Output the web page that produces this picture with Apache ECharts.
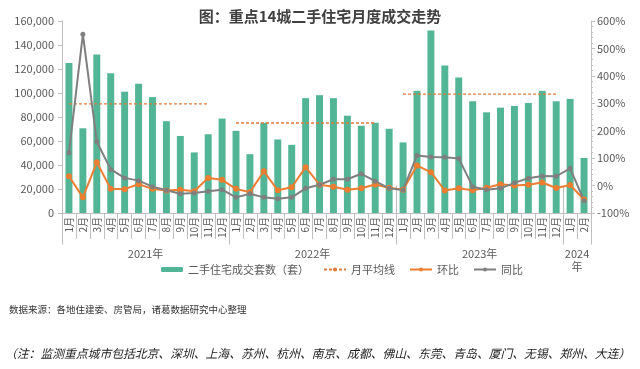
<!DOCTYPE html>
<html><head><meta charset="utf-8">
<script src="https://cdn.jsdelivr.net/npm/echarts@6/dist/echarts.min.js"></script>
<style>html,body{margin:0;padding:0;background:#fff}#c{width:640px;height:369px}</style>
</head><body><div id="c"></div>
<script>
// ---- data ----
const months = ['1月','2月','3月','4月','5月','6月','7月','8月','9月','10月','11月','12月',
  '1月','2月','3月','4月','5月','6月','7月','8月','9月','10月','11月','12月',
  '1月','2月','3月','4月','5月','6月','7月','8月','9月','10月','11月','12月',
  '1月','2月'];
const yearLabels = ['2021年','2022年','2023年','2024\n年'];
const yearMonthCounts = [12, 12, 12, 2];
const volumes = [125000,70600,132100,116400,101100,107800,96600,76500,64200,50500,65600,78700,
  68500,49000,75200,61300,56800,95700,98200,95700,81100,72700,75200,70200,
  58800,101800,152000,123000,112900,93100,83900,87800,89200,91700,101800,93100,
  95100,45900];
const mom = [34,-43,85,-12,-13,5,-12,-18,-15,-21,28,21,
  -12,-24,52,-17,-6,67,3,-4,-15,-10,4,-8,
  -15,73,49,-18,-10,-17,-8,5,0,3,11,-9,
  2,-51];
const yoy = [120,552,160,59,28,18,-4,-17,-30,-27,-21,-15,
  -43,-30,-43,-48,-43,-10,3,23,23,43,16,-10,
  -16,110,104,103,99,-4,-15,-10,10,27,35,34,
  63,-55];
const avgValues = [91000, 75000, 99000];
const avgMonthsShown = [11, 11, 12];
const leftTicks = {min: 0, max: 160000, interval: 20000};
const rightTicks = {min: -100, max: 600, interval: 100};

// ---- build helpers ----
const avgLine = [];
yearMonthCounts.forEach((n, yi) => {
  for (let m = 0; m < n; m++) {
    avgLine.push(yi < avgValues.length && m < avgMonthsShown[yi] ? avgValues[yi] : null);
  }
});
const yearBounds = [0];
yearMonthCounts.forEach(n => yearBounds.push(yearBounds[yearBounds.length - 1] + n));
const yearCenters = {};
yearMonthCounts.forEach((n, i) => { yearCenters[yearBounds[i] + n / 2] = yearLabels[i]; });

const FONT = '"Noto Sans CJK SC", "Noto Sans", sans-serif';
const txt = '#595959';
const axisCol = '#bfbfbf';

const chart = echarts.init(document.getElementById('c'), null, {renderer: 'canvas'});
chart.setOption({
  animation: false,
  textStyle: {fontFamily: FONT},
  title: [
    {text: '图：重点14城二手住宅月度成交走势', left: 'center', top: 4,
     textStyle: {fontSize: 15, fontWeight: 'bold', color: '#404040', fontFamily: FONT}},
    {text: '数据来源：各地住建委、房管局，诸葛数据研究中心整理', left: 4, top: 300,
     textStyle: {fontSize: 9.5, fontWeight: 'normal', color: '#333', fontFamily: FONT}},
    {text: '（注：监测重点城市包括北京、深圳、上海、苏州、杭州、南京、成都、佛山、东莞、青岛、厦门、无锡、郑州、大连）',
     left: 0, top: 343,
     textStyle: {fontSize: 11.8, fontWeight: 'normal', fontStyle: 'italic', color: '#222', fontFamily: FONT}}
  ],
  grid: {left: 62, right: 49, top: 21, bottom: 156, containLabel: false},
  legend: {
    left: 156, top: 259, itemWidth: 22, itemHeight: 5, itemGap: 14,
    textStyle: {fontSize: 11, color: txt, fontFamily: FONT},
    data: ['二手住宅成交套数（套）', '月平均线', '环比', '同比']
  },
  xAxis: [
    {type: 'category', data: months, boundaryGap: true,
     axisLine: {show: true, lineStyle: {color: axisCol}},
     axisTick: {show: true, interval: 0, length: 26, lineStyle: {color: axisCol}},
     axisLabel: {interval: 0, rotate: 90, margin: 4, fontSize: 10, color: txt, fontFamily: FONT}},
    {type: 'value', min: 0, max: yearBounds[yearBounds.length - 1], position: 'bottom',
     axisLine: {show: false}, splitLine: {show: false},
     axisTick: {show: true, customValues: yearBounds, length: 59, lineStyle: {color: axisCol}},
     axisLabel: {show: true, customValues: Object.keys(yearCenters).map(Number), margin: 34,
       fontSize: 11, color: txt, lineHeight: 13, fontFamily: FONT,
       formatter: v => yearCenters[v] || ''}}
  ],
  yAxis: [
    {type: 'value', min: leftTicks.min, max: leftTicks.max, interval: leftTicks.interval,
     splitLine: {show: false},
     axisLine: {show: true, lineStyle: {color: axisCol}},
     axisTick: {show: true, length: 4, lineStyle: {color: axisCol}},
     axisLabel: {fontSize: 11, color: txt, margin: 8, fontFamily: FONT}},
    {type: 'value', min: rightTicks.min, max: rightTicks.max, interval: rightTicks.interval,
     position: 'right', splitLine: {show: false},
     axisLine: {show: true, lineStyle: {color: axisCol}},
     axisTick: {show: true, length: 4, lineStyle: {color: axisCol}},
     minorTick: {show: true, splitNumber: 5, length: 2, lineStyle: {color: axisCol}},
     axisLabel: {fontSize: 11, color: txt, margin: 6, formatter: '{value}%', fontFamily: FONT}}
  ],
  series: [
    {name: '二手住宅成交套数（套）', type: 'bar', data: volumes, barWidth: '50%',
     itemStyle: {color: '#52b596'}},
    {name: '月平均线', type: 'line', data: avgLine, connectNulls: false, showSymbol: false,
     symbol: 'none', z: 4,
     lineStyle: {color: '#e07a3a', width: 1.3, type: [3, 2]}, itemStyle: {color: '#e07a3a'}},
    {name: '环比', type: 'line', yAxisIndex: 1, data: mom, symbol: 'circle', symbolSize: 6, z: 5,
     lineStyle: {color: '#ed7d31', width: 2}, itemStyle: {color: '#ed7d31'}},
    {name: '同比', type: 'line', yAxisIndex: 1, data: yoy, symbol: 'circle', symbolSize: 5, z: 5,
     lineStyle: {color: '#7f7f7f', width: 2}, itemStyle: {color: '#7f7f7f'}}
  ]
});
</script>
</body></html>
